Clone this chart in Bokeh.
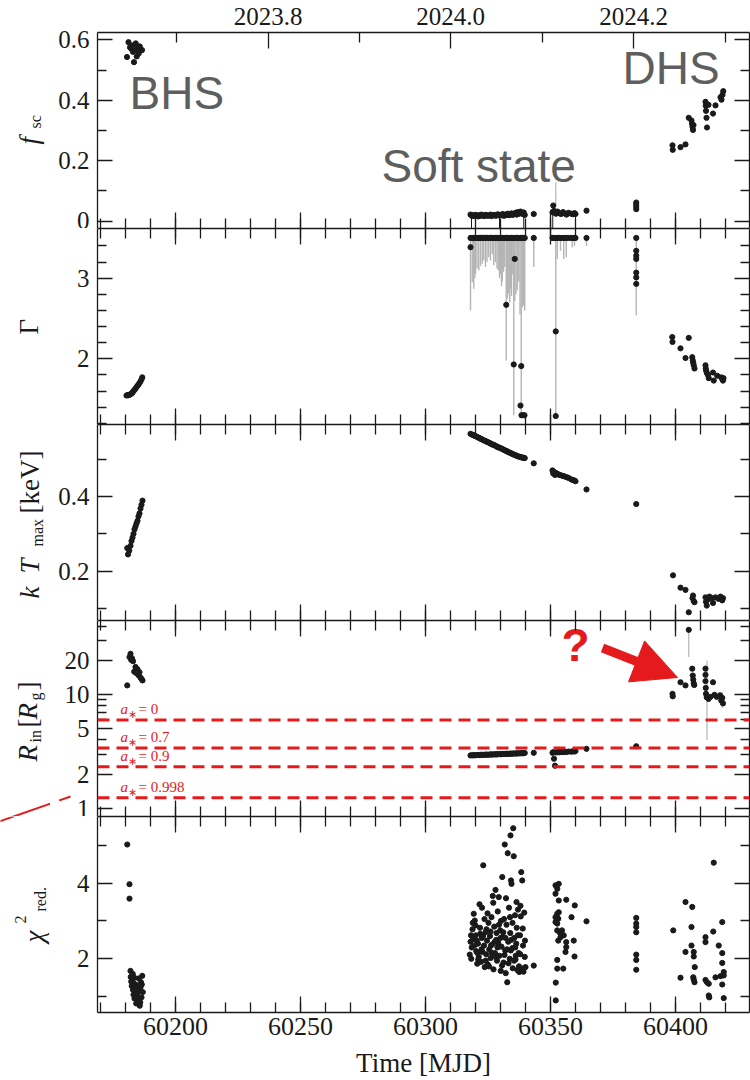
import math

from bokeh.core.properties import value
from bokeh.embed import file_html
from bokeh.layouts import column, row
from bokeh.models import (Arrow, CustomJSTickFormatter, FixedTicker, LinearAxis, LogAxis,
                          NormalHead, Range1d, SingleIntervalTicker, Span, TeeHead)
from bokeh.plotting import figure
from bokeh.resources import INLINE

# ------------------------------------------------------------------ data
# Bright hard state (BHS)
t_bhs_fsc = [60180.6, 60181.2, 60181.8, 60182.3, 60182.7, 60183.0, 60183.4, 60183.8,
             60184.1, 60184.5, 60184.9, 60185.3, 60185.7, 60186.1, 60186.6]
fsc_bhs = [0.543, 0.592, 0.575, 0.570, 0.581, 0.560, 0.526, 0.565, 0.588, 0.545,
           0.575, 0.555, 0.578, 0.565, 0.566]

t_bhs_gam = [60180.4, 60180.8, 60181.2, 60181.6, 60182.0, 60182.4, 60182.8, 60183.2,
             60183.6, 60184.0, 60184.4, 60184.8, 60185.2, 60185.6, 60186.0, 60186.4, 60186.7]
gam_bhs = [1.545, 1.550, 1.548, 1.555, 1.560, 1.572, 1.580, 1.600, 1.615, 1.630,
           1.650, 1.665, 1.680, 1.700, 1.720, 1.745, 1.770]

t_bhs_kt = [60180.7, 60181.0, 60181.5, 60182.0, 60182.4, 60182.8, 60183.2, 60183.6,
            60184.0, 60184.4, 60184.8, 60185.2, 60185.6, 60186.0, 60186.4, 60186.8]
kt_bhs = [0.262, 0.245, 0.255, 0.268, 0.281, 0.290, 0.300, 0.312, 0.320, 0.328,
          0.335, 0.347, 0.355, 0.368, 0.378, 0.389]

t_bhs_rin = [60180.7, 60181.6, 60182.0, 60182.3, 60182.6, 60183.0, 60183.5, 60184.0,
             60184.4, 60184.8, 60185.2, 60185.6, 60186.0, 60186.4, 60186.8]
rin_bhs = [12.1, 21.5, 23.0, 20.3, 21.0, 19.8, 16.0, 17.6, 15.5, 16.8, 14.9, 15.8,
           14.2, 13.8, 13.4]

t_bhs_chi = [60180.7, 60181.6, 60181.6, 60182.0, 60182.1, 60182.3, 60182.5, 60182.7,
             60183.0, 60183.2, 60183.4, 60183.6, 60183.9, 60184.1, 60184.3, 60184.6,
             60184.8, 60185.0, 60185.3, 60185.5, 60185.7, 60186.0, 60186.2, 60186.4,
             60186.7, 60186.9, 60183.5, 60184.9, 60185.9, 60182.9, 60186.5]
chi_bhs = [5.02, 3.97, 3.59, 1.68, 1.52, 1.40, 1.28, 1.45, 1.18, 1.05, 1.35, 0.95,
           1.22, 1.10, 0.82, 1.30, 1.02, 0.90, 1.48, 1.15, 0.76, 1.25, 1.38, 0.98,
           1.55, 1.12, 1.50, 1.20, 0.85, 1.60, 1.32]

# Soft state, first block of observations
t_soft_a = [60318.0, 60318.6, 60319.1, 60319.5, 60320.0, 60320.6, 60321.1, 60321.5,
            60322.0, 60322.4, 60322.9, 60323.5, 60324.0, 60324.4, 60324.9, 60325.5,
            60326.0, 60326.4, 60326.9, 60327.5, 60328.0, 60328.4, 60328.9, 60329.4,
            60330.0, 60330.5, 60330.9, 60331.4, 60332.0, 60332.5, 60332.9, 60333.4,
            60334.0, 60334.4, 60334.9, 60335.4, 60336.0, 60336.5, 60336.9, 60337.4,
            60338.0, 60338.4, 60338.9, 60339.3, 60339.7]
fsc_soft_a = [0.022, 0.018, 0.020, 0.017, 0.021, 0.019, 0.016, 0.020, 0.018, 0.022,
              0.019, 0.017, 0.021, 0.020, 0.018, 0.019, 0.022, 0.017, 0.020, 0.021,
              0.018, 0.020, 0.023, 0.019, 0.021, 0.020, 0.024, 0.018, 0.022, 0.021,
              0.025, 0.020, 0.023, 0.026, 0.021, 0.024, 0.028, 0.022, 0.030, 0.025,
              0.032, 0.027, 0.024, 0.029, 0.021]
kt_soft_a = [0.568, 0.566, 0.565, 0.563, 0.562, 0.560, 0.558, 0.557, 0.555, 0.554,
             0.552, 0.550, 0.549, 0.547, 0.546, 0.544, 0.542, 0.541, 0.539, 0.538,
             0.536, 0.534, 0.533, 0.531, 0.530, 0.528, 0.527, 0.525, 0.523, 0.522,
             0.520, 0.518, 0.517, 0.515, 0.514, 0.512, 0.511, 0.509, 0.508, 0.507,
             0.506, 0.505, 0.504, 0.504, 0.503]
rin_soft_a = [2.92, 2.93, 2.92, 2.94, 2.93, 2.94, 2.95, 2.94, 2.95, 2.96, 2.95, 2.96,
              2.96, 2.97, 2.96, 2.97, 2.98, 2.97, 2.98, 2.98, 2.99, 2.98, 2.99, 3.00,
              2.99, 3.00, 3.01, 3.00, 3.01, 3.02, 3.01, 3.02, 3.03, 3.02, 3.03, 3.04,
              3.03, 3.04, 3.05, 3.04, 3.05, 3.06, 3.05, 3.06, 3.07]

# Soft state, second block of observations
t_soft_b = [60350.8, 60351.1, 60351.4, 60351.8, 60352.2, 60352.8, 60353.5, 60354.2,
            60355.0, 60355.6, 60356.4, 60357.2, 60358.3, 60359.0, 60359.6, 60360.0]
fsc_soft_b = [0.030, 0.052, 0.034, 0.028, 0.025, 0.032, 0.027, 0.024, 0.030, 0.026,
              0.022, 0.028, 0.025, 0.023, 0.027, 0.024]
kt_soft_b = [0.470, 0.462, 0.466, 0.458, 0.463, 0.461, 0.458, 0.457, 0.455, 0.454,
             0.452, 0.450, 0.446, 0.444, 0.443, 0.441]
rin_soft_b = [3.08, 3.12, 2.73, 2.37, 3.10, 3.13, 3.11, 3.14, 3.12, 3.15, 3.13, 3.16,
              3.15, 3.18, 3.16, 3.19]

# Isolated soft-state pointings
t_single = [60343.3, 60364.4, 60384.3]
fsc_single = [0.024, 0.035, 0.040]
kt_single = [0.489, 0.419, 0.380]
rin_single = [3.08, 3.34, 3.52]

t_fsc_extra = [60384.3, 60384.3, 60384.3]
fsc_extra = [0.048, 0.055, 0.062]

# Gamma: fits pegged at the upper bound, and free values
GAMMA_MAX = 3.5
t_gam_free = [60318.0, 60335.7, 60332.3, 60335.3, 60338.3, 60338.0, 60338.4, 60339.0,
              60339.6, 60352.1, 60352.1, 60384.3, 60384.3, 60384.3, 60384.3, 60384.3,
              60384.3]
gam_free = [3.385, 3.24, 2.67, 1.93, 1.91, 1.42, 1.30, 1.30, 1.30, 2.34, 1.29,
            3.34, 3.28, 3.24, 3.07, 3.01, 2.93]

# Lower ends of the Gamma error bars (upper ends at the bound)
t_gam_err = [60318.0, 60318.7, 60319.3, 60319.7, 60320.0, 60320.6, 60321.3, 60322.0,
             60322.7, 60323.3, 60324.0, 60324.6, 60325.3, 60326.0, 60326.7, 60327.3,
             60328.0, 60328.6, 60329.1, 60329.6, 60330.0, 60330.4, 60330.7, 60331.2,
             60331.7, 60332.3, 60332.8, 60333.3, 60333.7, 60334.0, 60334.4, 60334.7,
             60335.3, 60335.7, 60336.2, 60336.7, 60337.3, 60337.8, 60338.3, 60338.7,
             60339.3, 60339.7, 60343.3, 60352.1, 60352.7, 60354.0, 60355.3, 60356.3,
             60358.7, 60359.6, 60364.4, 60384.3]
gam_err_lo = [2.60, 2.95, 2.87, 3.00, 3.05, 3.12, 3.10, 3.15, 3.18, 3.22, 3.14, 3.20,
              3.26, 3.22, 3.30, 3.16, 3.20, 3.12, 3.10, 3.00, 3.05, 2.90, 2.96, 3.08,
              3.14, 1.98, 2.75, 2.81, 2.70, 2.87, 2.78, 3.05, 1.30, 2.72, 2.80, 2.85,
              2.96, 2.55, 1.30, 2.64, 2.66, 2.60, 3.14, 1.29, 3.24, 3.34, 3.24, 3.26,
              3.38, 3.40, 3.40, 2.54]

# Diminishing hard state (DHS)
t_dhs_fsc = [60398.8, 60398.9, 60402.0, 60404.0, 60405.3, 60406.4, 60406.6, 60406.8,
             60407.0, 60407.2, 60412.0, 60412.1, 60412.2, 60412.4, 60412.6, 60413.2,
             60415.0, 60416.0, 60418.0, 60418.4, 60418.8, 60419.1]
fsc_dhs = [0.251, 0.236, 0.245, 0.254, 0.342, 0.333, 0.322, 0.312, 0.302, 0.318,
           0.395, 0.382, 0.365, 0.342, 0.310, 0.385, 0.356, 0.383, 0.410, 0.402,
           0.418, 0.430]

t_dhs_gam = [60398.7, 60398.8, 60402.0, 60404.0, 60405.3, 60406.7, 60406.9, 60407.1,
             60407.3, 60407.6, 60412.0, 60412.1, 60412.3, 60412.6, 60413.0, 60413.3,
             60415.0, 60415.3, 60416.7, 60418.3, 60418.7, 60419.0, 60419.2]
gam_dhs = [2.27, 2.21, 2.13, 2.01, 2.26, 2.02, 1.98, 1.95, 1.92, 1.88, 1.92, 1.88,
           1.85, 1.82, 1.80, 1.76, 1.83, 1.73, 1.79, 1.77, 1.75, 1.73, 1.76]

t_dhs_kt = [60399.0, 60402.0, 60404.0, 60405.3, 60406.8, 60407.0, 60407.3, 60407.6,
            60412.0, 60412.2, 60412.5, 60413.0, 60413.6, 60414.4, 60415.0, 60416.0,
            60417.2, 60418.0, 60418.7, 60419.0]
kt_dhs = [0.189, 0.156, 0.150, 0.090, 0.128, 0.135, 0.120, 0.117, 0.130, 0.118,
          0.108, 0.125, 0.132, 0.128, 0.115, 0.130, 0.126, 0.132, 0.122, 0.128]

t_dhs_rin = [60398.8, 60398.9, 60402.0, 60404.0, 60405.3, 60406.7, 60406.9, 60407.1,
             60407.3, 60407.5, 60412.0, 60412.0, 60412.0, 60412.1, 60412.2, 60412.5,
             60413.2, 60414.0, 60415.0, 60415.6, 60416.5, 60417.8, 60418.3, 60418.7,
             60419.0]
rin_dhs = [10.2, 9.7, 12.9, 12.1, 37.4, 17.0, 14.8, 13.6, 12.6, 12.2, 17.0, 15.0,
           13.2, 11.5, 10.2, 9.5, 9.2, 9.6, 12.9, 10.0, 9.6, 9.9, 8.9, 9.4, 8.4]
t_rin_err = [60405.3, 60412.6, 60418.7]
rin_err_lo = [21.5, 4.0, 7.6]
rin_err_hi = [37.4, 20.1, 10.6]

# Reduced chi-square
t_chi_soft = [60317.7, 60318.0, 60318.2, 60318.5, 60318.8, 60319.0, 60319.3, 60319.7,
              60320.0, 60320.3, 60320.7, 60321.0, 60321.3, 60321.6, 60321.9, 60322.2,
              60322.5, 60322.8, 60323.1, 60323.4, 60323.7, 60324.0, 60324.3, 60324.6,
              60324.9, 60325.2, 60325.5, 60325.8, 60326.1, 60326.4, 60326.7, 60326.9,
              60327.2, 60327.5, 60327.8, 60328.0, 60328.3, 60328.6, 60328.9, 60329.1,
              60329.3, 60329.6, 60329.9, 60330.1, 60330.4, 60330.7, 60330.9, 60331.2,
              60331.4, 60331.7, 60331.9, 60332.1, 60332.4, 60332.7, 60332.9, 60333.1,
              60333.4, 60333.7, 60333.9, 60334.0, 60334.2, 60334.4, 60334.7, 60334.9,
              60335.1, 60335.3, 60335.5, 60335.8, 60336.0, 60336.3, 60336.5, 60336.8,
              60337.0, 60337.3, 60337.5, 60337.8, 60338.0, 60338.3, 60338.5, 60338.7,
              60339.0, 60339.2, 60339.5, 60339.7, 60340.0,
              60318.3, 60318.9, 60319.5, 60320.1, 60320.5, 60321.1, 60321.8, 60322.4,
              60323.0, 60323.6, 60324.1, 60324.8, 60325.4, 60326.0, 60326.6, 60327.1,
              60327.7, 60328.2, 60328.8, 60329.4, 60330.0, 60330.6, 60331.1, 60331.6,
              60332.2, 60332.6, 60333.2, 60333.8, 60334.3, 60334.8, 60335.4, 60335.9,
              60336.4, 60336.9, 60337.4, 60337.9, 60338.4, 60338.9, 60339.3, 60339.8,
              60338.1, 60336.1, 60334.1, 60332.0, 60330.2, 60328.4, 60326.2, 60324.4,
              60322.6, 60320.8, 60343.3]
chi_soft = [2.11, 2.45, 2.62, 2.30, 2.78, 2.52, 3.19, 3.01, 2.88, 2.20, 1.87, 2.40,
            2.05, 3.44, 2.66, 1.92, 2.55, 2.18, 4.47, 2.35, 1.78, 2.70, 2.12, 2.48,
            1.85, 2.95, 2.25, 2.60, 2.02, 3.10, 2.38, 3.66, 1.72, 2.85, 2.15, 3.82,
            2.50, 1.95, 3.25, 2.42, 3.63, 2.08, 2.75, 1.68, 2.32, 4.16, 2.58, 1.90,
            3.05, 5.02, 2.22, 1.62, 2.90, 1.38, 4.79, 2.45, 3.35, 2.00, 2.68, 5.26,
            4.07, 3.98, 2.28, 1.75, 5.45, 4.71, 2.55, 3.15, 1.98, 2.40, 2.82, 1.70,
            3.30, 2.15, 1.65, 2.62, 3.40, 4.29, 1.72, 4.07, 2.35, 1.66, 3.22, 2.05,
            1.78,
            2.00, 2.95, 2.35, 2.62, 2.48, 1.98, 2.82, 2.25, 2.60, 3.05, 1.95, 3.20,
            1.80, 2.72, 2.15, 3.48, 2.45, 2.05, 2.30, 2.90, 2.55, 1.82, 2.70, 2.10,
            3.60, 2.25, 1.88, 3.10, 2.50, 2.95, 1.95, 2.30, 3.50, 2.62, 1.80, 2.12,
            1.68, 2.80, 1.75, 2.48, 3.12, 2.08, 2.22, 2.55, 3.00, 2.68, 2.35, 2.78,
            3.35, 2.15, 1.82]

t_chi_b = [60353.3, 60352.0, 60352.7, 60352.0, 60353.3, 60356.3, 60359.7, 60352.7,
           60352.0, 60353.3, 60358.4, 60352.0, 60352.7, 60354.0, 60355.3, 60353.1,
           60356.3, 60359.3, 60356.3, 60356.0, 60359.6, 60352.7, 60352.7, 60355.1,
           60352.1, 60352.1, 60352.7, 60354.6, 60353.1, 60353.6, 60364.4]
chi_b = [3.98, 3.94, 3.85, 3.72, 3.54, 3.56, 3.41, 3.19, 3.10, 3.23, 3.10, 2.97,
         2.75, 2.57, 2.62, 2.48, 2.44, 2.48, 2.31, 2.18, 2.06, 1.97, 1.74, 1.74,
         1.37, 0.90, 2.93, 2.75, 3.06, 2.70, 2.99]

t_chi_late = [60384.3, 60384.3, 60384.3, 60384.3, 60384.3, 60384.3, 60384.3,
              60399.1, 60402.0, 60404.0, 60406.7, 60406.4, 60406.4, 60404.0, 60407.3,
              60407.3, 60407.7, 60407.1, 60407.3, 60407.6, 60412.0, 60412.0, 60412.0,
              60412.6, 60413.3, 60413.3, 60413.5, 60415.1, 60415.3, 60416.0, 60417.3,
              60418.7, 60418.7, 60418.7, 60419.3, 60419.3, 60418.7, 60419.3, 60418.0]
chi_late = [3.08, 2.93, 2.84, 2.70, 2.11, 1.97, 1.71,
            2.75, 1.50, 3.50, 3.37, 2.84, 2.35, 2.18, 2.18, 2.06, 1.78, 1.51, 1.45,
            1.38, 2.57, 2.44, 1.44, 1.38, 1.34, 1.03, 0.98, 2.72, 4.54, 1.51, 2.35,
            2.97, 2.15, 1.89, 1.65, 1.56, 1.32, 0.96, 1.54]

# Innermost stable circular orbits for a few spins
spin_labels = ["0", "0.7", "0.9", "0.998"]
r_isco = [6.0, 3.393, 2.321, 1.237]

# Decimal-year ticks of the top axis
year_ticks = [2023.8, 2024.0, 2024.2]
year_minor = [2023.7, 2023.9, 2024.1, 2024.3]
year_tick_labels = ["2023.8", "2024.0", "2024.2"]

# ------------------------------------------------------------------ layout
X0, X1 = 60168.8, 60429.6
STRIP_W = 50          # strip carrying the rotated axis titles
B_LEFT = 47           # tick-label border of each panel
FRAME_X = STRIP_W + B_LEFT
B_RIGHT = 1
FRAME_W = 652
MAIN_W = B_LEFT + FRAME_W + B_RIGHT
FRAME_H = 196
PAD_TOP, PAD_BOTTOM = 32, 68

SERIF = "Liberation Serif"
SANS = "Liberation Sans"
INK = "#1a1a1a"
ERR = "#b4b4b4"
RED = "#e41a1c"
STATE = "#5e5e5e"

PANELS = [
    dict(yr=(-0.024, 0.624), log=False, major=[0, 0.2, 0.4, 0.6], minor=[0.1, 0.3, 0.5]),
    dict(yr=(1.185, 3.617), log=False, major=[2, 3],
         minor=[1.2, 1.4, 1.6, 1.8, 2.2, 2.4, 2.6, 2.8, 3.2, 3.4]),
    dict(yr=(0.068, 0.593), log=False, major=[0.2, 0.4], minor=[0.1, 0.3, 0.5]),
    dict(yr=(0.845, 45.2), log=True, major=[1, 2, 5, 10, 20],
         minor=[3, 4, 6, 7, 8, 9, 30, 40]),
    dict(yr=(0.58, 5.76), log=False, major=[2, 4], minor=[1, 3, 5]),
]
N = len(PANELS)
DEC_PX = FRAME_H / math.log10(PANELS[3]["yr"][1] / PANELS[3]["yr"][0])


def year_to_mjd(y):
    if y < 2024:
        return 59945.0 + (y - 2023.0) * 365.0
    return 60310.0 + (y - 2024.0) * 366.0


def px_to_mjd(px):
    return X0 + (px - FRAME_X) * (X1 - X0) / FRAME_W


def frame_top(i):
    return PAD_TOP + FRAME_H * i


def px_to_y(i, py):
    lo, hi = PANELS[i]["yr"]
    frac = (frame_top(i) + FRAME_H - py) / FRAME_H
    if PANELS[i]["log"]:
        return 10 ** (math.log10(lo) + frac * (math.log10(hi) - math.log10(lo)))
    return lo + frac * (hi - lo)


def pad(i):
    return (PAD_TOP if i == 0 else 0), (PAD_BOTTOM if i == N - 1 else 0)


def style_axis(ax, label_size, major_len=15, minor_len=9):
    ax.axis_line_color = INK
    ax.axis_line_width = 1.3
    ax.major_tick_line_color = INK
    ax.minor_tick_line_color = INK
    ax.major_tick_line_width = 1.3
    ax.minor_tick_line_width = 1.3
    ax.major_tick_in = major_len
    ax.major_tick_out = 0
    ax.minor_tick_in = minor_len
    ax.minor_tick_out = 0
    ax.major_label_text_font = SERIF
    ax.major_label_text_color = INK
    ax.major_label_text_font_size = label_size
    if label_size == "0px":
        ax.major_label_standoff = 0


def make_panel(i):
    spec = PANELS[i]
    first, last = i == 0, i == N - 1
    top, bottom = pad(i)
    p = figure(width=MAIN_W, height=FRAME_H + top + bottom, x_range=Range1d(X0, X1),
               y_range=Range1d(*spec["yr"]),
               y_axis_type="log" if spec["log"] else "linear",
               x_axis_location=None, y_axis_location=None,
               output_backend="svg", toolbar_location=None,
               min_border=0, min_border_left=B_LEFT, min_border_right=B_RIGHT,
               min_border_top=top, min_border_bottom=bottom,
               background_fill_color="white", border_fill_color="white",
               outline_line_color=None)
    p.xgrid.visible = False
    p.ygrid.visible = False

    # time axis along the bottom of every panel
    xb = LinearAxis(ticker=SingleIntervalTicker(interval=50, num_minor_ticks=5))
    style_axis(xb, "26px" if last else "0px", 16, 10)
    if last:
        xb.major_label_standoff = 5
        xb.axis_label = "Time [MJD]"
        xb.axis_label_text_font = SERIF
        xb.axis_label_text_font_size = "27px"
        xb.axis_label_text_font_style = "normal"
        xb.axis_label_text_color = INK
        xb.axis_label_standoff = 10
    p.add_layout(xb, "below")

    # top axis: decimal years on the first panel, plain time ticks elsewhere
    if first:
        xt = LinearAxis(
            ticker=FixedTicker(ticks=[year_to_mjd(y) for y in year_ticks],
                               minor_ticks=[year_to_mjd(y) for y in year_minor]),
            formatter=CustomJSTickFormatter(
                args=dict(pos=[year_to_mjd(y) for y in year_ticks], labs=year_tick_labels),
                code="const i = pos.findIndex(q => Math.abs(q - tick) < 1e-3);"
                     "return i >= 0 ? labs[i] : '';"))
        style_axis(xt, "25px", 16, 10)
        xt.major_label_standoff = 8
    else:
        xt = LinearAxis(ticker=SingleIntervalTicker(interval=50, num_minor_ticks=5))
        style_axis(xt, "0px", 16, 10)
    p.add_layout(xt, "above")

    axis_cls = LogAxis if spec["log"] else LinearAxis
    for side in ("left", "right"):
        ax = axis_cls(ticker=FixedTicker(ticks=spec["major"], minor_ticks=spec["minor"]))
        if side == "left":
            style_axis(ax, "25px")
            ax.major_label_standoff = 8
            if spec["log"]:
                ax.formatter = CustomJSTickFormatter(code="return tick.toFixed(0);")
        else:
            style_axis(ax, "0px")
        p.add_layout(ax, side)
    return p


def make_strip(i, main):
    """Strip left of panel i holding its rotated axis title."""
    top, bottom = pad(i)
    s = figure(width=STRIP_W, height=FRAME_H + top + bottom, x_range=Range1d(0, STRIP_W),
               y_range=main.y_range, y_axis_type="log" if PANELS[i]["log"] else "linear",
               x_axis_location=None, y_axis_location=None,
               output_backend="svg", toolbar_location=None, min_border=0,
               min_border_top=top, min_border_bottom=bottom,
               background_fill_color="white", border_fill_color="white",
               outline_line_color=None)
    s.xgrid.visible = False
    s.ygrid.visible = False
    return s


def v_title(s, i, runs):
    """Rotated axis title built from runs (text, x_px, y_start_px, size, style)."""
    for txt, cx, y0, size, style in runs:
        s.text(x=[cx], y=[px_to_y(i, y0)], text=[txt], angle=math.pi / 2,
               text_align="left", text_baseline="middle", text_font=value(SERIF),
               text_font_size=value(f"{size}px"), text_font_style=style, text_color=INK)


def dots(p, t, y):
    p.scatter(t, y, size=5.2, marker="circle", fill_color=INK, line_color=INK)


def caption(p, x, y, txt, font, size, color, style="normal", align="left"):
    # anchored on the middle of the line
    p.text(x=[x], y=[y], text=[txt], text_font=value(font),
           text_font_size=value(f"{size}px"), text_font_style=style, text_color=color,
           text_align=align, text_baseline="middle")


figs = [make_panel(i) for i in range(N)]
strips = [make_strip(i, figs[i]) for i in range(N)]
p_fsc, p_gam, p_kt, p_rin, p_chi = figs

# --- scattering fraction
p_fsc.segment(x0=[60318.4, 60329.6, 60339.3, 60350.9, 60360.0],
              y0=[0.020, 0.020, 0.024, 0.030, 0.024],
              x1=[60318.4, 60329.6, 60339.3, 60350.9, 60360.0],
              y1=[-0.03, -0.03, -0.03, -0.03, -0.03], line_color=INK, line_width=1)
p_fsc.segment(x0=[60352.1], y0=[0.052], x1=[60352.1], y1=[0.129],
              line_color=ERR, line_width=1.2)
for t, y in ((t_bhs_fsc, fsc_bhs), (t_soft_a, fsc_soft_a), (t_soft_b, fsc_soft_b),
             (t_single, fsc_single), (t_fsc_extra, fsc_extra), (t_dhs_fsc, fsc_dhs)):
    dots(p_fsc, t, y)

for txt, lx, by in (("BHS", 129, 110), ("Soft state", 381, 183), ("DHS", 622, 85)):
    caption(p_fsc, px_to_mjd(lx), px_to_y(0, by - 0.37 * 46), txt, SANS, 46, STATE)

# --- photon index
p_gam.segment(x0=t_gam_err, y0=gam_err_lo, x1=t_gam_err,
              y1=[GAMMA_MAX] * len(t_gam_err), line_color=ERR, line_width=1.4)
t_peg = t_soft_a + t_soft_b + t_single
dots(p_gam, t_peg, [GAMMA_MAX] * len(t_peg))
for t, y in ((t_gam_free, gam_free), (t_bhs_gam, gam_bhs), (t_dhs_gam, gam_dhs)):
    dots(p_gam, t, y)

# --- disc temperature
for t, y in ((t_bhs_kt, kt_bhs), (t_soft_a, kt_soft_a), (t_soft_b, kt_soft_b),
             (t_single, kt_single), (t_dhs_kt, kt_dhs)):
    dots(p_kt, t, y)

# --- inner radius with ISCO references
for r in r_isco:
    p_rin.add_layout(Span(location=r, dimension="width", line_color=RED,
                          line_width=3, line_dash="12 7"))
for lab, r in zip(spin_labels, r_isco):
    mid = r * 10 ** ((5 + 0.37 * 15) / DEC_PX)
    mid_sub = r * 10 ** ((2 + 0.37 * 11) / DEC_PX)
    caption(p_rin, px_to_mjd(120), mid, "a", SERIF, 15, RED, "italic")
    caption(p_rin, px_to_mjd(127.5), mid_sub, "\u2217", SERIF, 11, RED)
    caption(p_rin, px_to_mjd(138), mid, "= " + lab, SERIF, 15, RED)

p_rin.segment(x0=t_rin_err, y0=rin_err_lo, x1=t_rin_err, y1=rin_err_hi,
              line_color=ERR, line_width=1.2)
for t, y in ((t_bhs_rin, rin_bhs), (t_soft_a, rin_soft_a), (t_soft_b, rin_soft_b),
             (t_single, rin_single), (t_dhs_rin, rin_dhs)):
    dots(p_rin, t, y)

caption(p_rin, px_to_mjd(575), px_to_y(3, 662 - 0.37 * 46), "?", SANS, 46, RED,
        "bold", "center")
p_rin.add_layout(Arrow(end=NormalHead(size=44, fill_color=RED, line_color=RED),
                       x_start=px_to_mjd(602), y_start=px_to_y(3, 647.5),
                       x_end=px_to_mjd(677), y_end=px_to_y(3, 677),
                       line_color=RED, line_width=9))

# thin pointer at the R_in = 1 tick label, running from the page edge
PTR = ((-4.0, 822.0), (70.0, 796.0))


def ptr_y(px):
    (xa, ya), (xb, yb) = PTR
    return ya + (px - xa) * (yb - ya) / (xb - xa)


strips[3].segment(x0=[PTR[0][0]], y0=[px_to_y(3, PTR[0][1])], x1=[STRIP_W],
                  y1=[px_to_y(3, ptr_y(STRIP_W))], line_color=RED, line_width=2)
strips[4].segment(x0=[PTR[0][0]], y0=[px_to_y(4, PTR[0][1])], x1=[14],
                  y1=[px_to_y(4, ptr_y(14))], line_color=RED, line_width=2)
p_rin.add_layout(Arrow(end=NormalHead(size=12, fill_color=RED, line_color=RED),
                       x_start=px_to_mjd(PTR[0][0]), y_start=px_to_y(3, PTR[0][1]),
                       x_end=px_to_mjd(PTR[1][0]), y_end=px_to_y(3, PTR[1][1]),
                       line_color=RED, line_width=2))
# short stretch of the pointer inside the tick-label border
dx, dy = PTR[1][0] - PTR[0][0], PTR[1][1] - PTR[0][1]
L = math.hypot(dx, dy)
ux, uy = dx / L, dy / L
cx = STRIP_W + 7.0
cy = ptr_y(cx)
p_rin.add_layout(Arrow(end=TeeHead(size=17, line_color=RED, line_width=2),
                       x_start=px_to_mjd(cx - 20 * uy), y_start=px_to_y(3, cy + 20 * ux),
                       x_end=px_to_mjd(cx), y_end=px_to_y(3, cy),
                       line_alpha=0))

# --- fit quality
for t, y in ((t_bhs_chi, chi_bhs), (t_chi_soft, chi_soft), (t_chi_b, chi_b),
             (t_chi_late, chi_late)):
    dots(p_chi, t, y)

# --- axis titles
v_title(strips[0], 0, [("f", 28, 144, 27, "italic"), ("sc", 35, 128, 16, "normal")])
v_title(strips[1], 1, [("\u0393", 28, 334, 27, "normal")])
v_title(strips[2], 2, [("k", 29, 598, 27, "italic"), ("T", 29, 573, 27, "italic"),
                       ("max", 37, 546, 16, "normal"), ("[keV]", 29, 513, 27, "normal")])
v_title(strips[3], 3, [("R", 27, 761, 27, "italic"), ("in", 35, 742, 16, "normal"),
                       ("[", 27, 727, 27, "normal"), ("R", 27, 719, 27, "italic"),
                       ("g", 35, 700, 16, "normal"), ("]", 27, 690, 27, "normal")])
v_title(strips[4], 4, [("\u03c7", 33, 942, 27, "italic"), ("2", 20, 923, 16, "normal"),
                       ("red.", 40, 911, 16, "normal")])

layout = column(*[row(s, p, spacing=0) for s, p in zip(strips, figs)], spacing=0)
open("out.html", "w").write(file_html(layout, INLINE))
